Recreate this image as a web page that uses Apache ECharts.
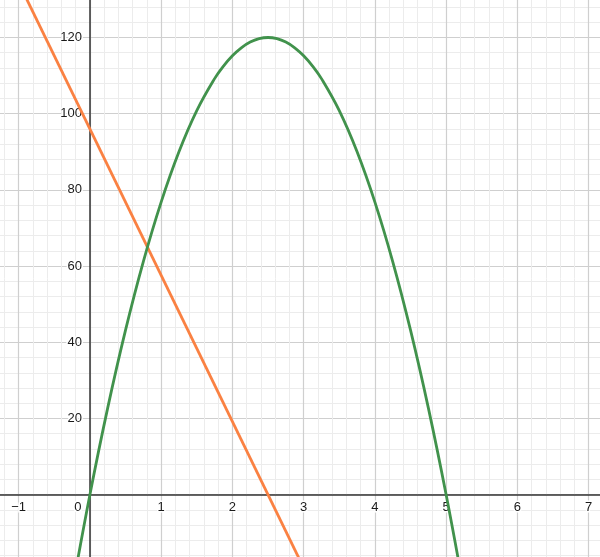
<!DOCTYPE html>
<html>
<head>
<meta charset="utf-8">
<script src="https://cdn.jsdelivr.net/npm/echarts@6/dist/echarts.min.js"></script>
<style>
  html, body { margin: 0; padding: 0; background: #fff; }
  #plot { width: 600px; height: 557px; }
</style>
</head>
<body>
<div id="plot"></div>
<script>
// values
var parabolaX = [-0.25, 0, 0.25, 0.5, 0.75, 1, 1.25, 1.5, 1.75, 1.875, 2, 2.125, 2.25, 2.375, 2.5,
                 2.625, 2.75, 2.875, 3, 3.125, 3.25, 3.5, 3.75, 4, 4.25, 4.5, 4.75, 5, 5.25];
var parabolaY = [-25.2, 0, 22.8, 43.2, 61.2, 76.8, 90, 100.8, 109.2, 112.5, 115.2, 117.3, 118.8, 119.7, 120,
                 119.7, 118.8, 117.3, 115.2, 112.5, 109.2, 100.8, 90, 76.8, 61.2, 43.2, 22.8, 0, -25.2];
var lineX = [-1, 3];
var lineY = [134.4, -19.2];

var xTicks = [-1, 0, 1, 2, 3, 4, 5, 6, 7];
var yTicks = [20, 40, 60, 80, 100, 120];

function pairs(xs, ys) {
    return xs.map(function (x, i) { return [x, ys[i]]; });
}

var labelFont = {
    color: '#1a1a1a',
    fontFamily: 'Liberation Sans, Arial, sans-serif',
    fontSize: 13,
    textBorderColor: '#fff',
    textBorderWidth: 3
};

var chart = echarts.init(document.getElementById('plot'));
var option = {
    animation: false,
    backgroundColor: '#fff',
    grid: {
        left: -52.6, right: -59.9, top: -38.7, bottom: -90.1,
        containLabel: false,
        outerBoundsMode: 'none'
    },
    xAxis: {
        type: 'value',
        position: 'bottom',
        offset: -152.4,
        min: -2, max: 8, interval: 1,
        axisLine: { onZero: false, lineStyle: { color: '#333', width: 1.5 } },
        axisTick: { show: false },
        minorTick: { show: false, splitNumber: 5 },
        splitLine: { show: true, lineStyle: { color: '#cfcfcf', width: 1.2 } },
        minorSplitLine: { show: true, lineStyle: { color: '#ececec', width: 1 } },
        axisLabel: Object.assign({
            margin: 6,
            formatter: function (v) {
                if (xTicks.indexOf(v) < 0) return '';
                if (v === 0) return '{z|0}';
                return String(v).replace('-', '\u2212');
            },
            rich: { z: { padding: [0, 24, 0, 0], fontSize: 13, fontFamily: 'Liberation Sans, Arial, sans-serif', color: '#1a1a1a' } }
        }, labelFont)
    },
    yAxis: {
        type: 'value',
        position: 'left',
        offset: -142.5,
        min: -40, max: 140, interval: 20,
        axisLine: { onZero: false, lineStyle: { color: '#333', width: 1.5 } },
        axisTick: { show: false },
        minorTick: { show: false, splitNumber: 5 },
        splitLine: { show: true, lineStyle: { color: '#cfcfcf', width: 1.2 } },
        minorSplitLine: { show: true, lineStyle: { color: '#ececec', width: 1 } },
        axisLabel: Object.assign({
            margin: 8,
            formatter: function (v) {
                return yTicks.indexOf(v) < 0 ? '' : String(v);
            }
        }, labelFont)
    },
    series: [
        {
            type: 'line',
            data: pairs(lineX, lineY),
            showSymbol: false,
            lineStyle: { color: '#fa8142', width: 2.8 }
        },
        {
            type: 'line',
            data: pairs(parabolaX, parabolaY),
            smooth: 0.4,
            showSymbol: false,
            lineStyle: { color: '#41924c', width: 2.8 }
        }
    ]
};
chart.setOption(option);
</script>
</body>
</html>
